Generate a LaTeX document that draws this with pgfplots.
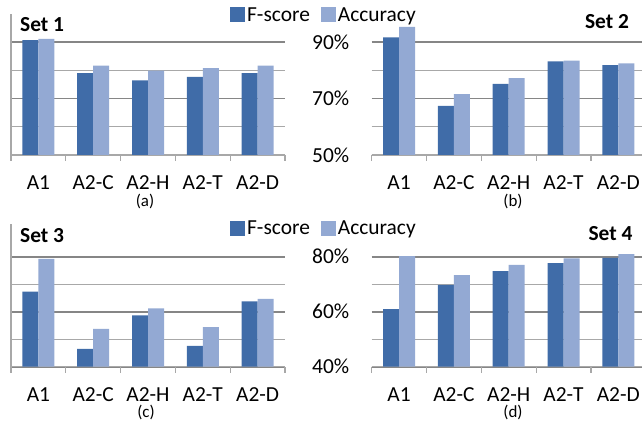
\documentclass[border=0pt]{standalone}
\usepackage{fontspec}
\setmainfont{Carlito}
\usepackage{pgfplots}
\pgfplotsset{compat=1.18}
\definecolor{fdark}{RGB}{64,108,168}
\definecolor{flight}{RGB}{147,169,211}
\definecolor{gmaj}{RGB}{134,134,134}
\definecolor{gmin}{RGB}{168,168,168}
\newcommand{\lbl}{\fontsize{21.5}{25}\selectfont}
\newcommand{\sml}{\fontsize{17}{20}\selectfont}
\pgfplotsset{
 panel/.style={
  scale only axis, anchor=south west,
  xmin=-0.5,
  axis x line*=bottom, axis y line*=left,
  x axis line style={-, draw=gmin, line width=1.2bp},
  y axis line style={-, draw=gmin, line width=1.2bp},
  xtick={0,1,2,3,4}, xticklabels={A1,A2-C,A2-H,A2-T,A2-D},
  minor xtick={-0.5,0.5,1.5,2.5,3.5,4.5},
  major tick length=0pt, minor tick length=6bp, tick align=outside,
  minor x tick style={draw=gmin, line width=1.2bp},
  minor y tick style={draw=none},
  ymajorgrids, yminorgrids,
  major grid style={draw=gmaj, line width=1.6bp},
  minor grid style={draw=gmin, line width=1.1bp},
  ybar=0pt, bar width=16bp,
  tick label style={font=\lbl, text=black},
  xticklabel style={yshift=-17bp},
  /pgf/number format/assume math mode=true,
 },
 leftp/.style={width=274bp, xmax=4.5, yticklabels={}},
 rightp/.style={width=270.3bp, xmax=4.4325, y axis line style={draw=none},
   yticklabel style={xshift=-19bp}},
 toprow/.style={height=141bp, ymin=50, ymax=100, ytick={50,70,90}, minor ytick={60,80}},
 botrow/.style={height=143bp, ymin=40, ymax=92, ytick={40,60,80}, minor ytick={50,70}},
 sqleg/.style={legend image code/.code={\fill[##1] (0bp,-7.5bp) rectangle (15bp,7.5bp);}},
 legst/.style={legend columns=2,
   legend style={draw=none, fill=none, inner sep=0pt, font=\lbl,
     nodes={inner sep=2bp},
     /tikz/every even column/.append style={column sep=9bp}}},
}
\begin{document}
\begin{tikzpicture}
\useasboundingbox (0,0) rectangle (642bp,425bp);
% Set 1
\begin{axis}[panel, leftp, toprow, at={(11bp,270bp)}, legst,
  legend style={at={(axis description cs:0.799,0.993)}, anchor=west}]
\addplot[fill=fdark, draw=none, sqleg] coordinates {(0,90.7) (1,79.0) (2,76.5) (3,77.7) (4,79.0)};
\addplot[fill=flight, draw=none, sqleg] coordinates {(0,91.2) (1,81.7) (2,79.9) (3,80.8) (4,81.7)};
\legend{F-score,Accuracy}
\end{axis}
% Set 2
\begin{axis}[panel, rightp, toprow, at={(371.7bp,270bp)}, yticklabels={50\%,70\%,90\%}]
\addplot[fill=fdark, draw=none] coordinates {(0,91.7) (1,67.4) (2,75.2) (3,83.2) (4,81.9)};
\addplot[fill=flight, draw=none] coordinates {(0,95.4) (1,71.6) (2,77.3) (3,83.5) (4,82.5)};
\end{axis}
% Set 3
\begin{axis}[panel, leftp, botrow, at={(11bp,58.3bp)}, legst,
  legend style={at={(axis description cs:0.799,0.968)}, anchor=west}]
\addplot[fill=fdark, draw=none, sqleg] coordinates {(0,67.3) (1,46.5) (2,58.7) (3,47.6) (4,63.8)};
\addplot[fill=flight, draw=none, sqleg] coordinates {(0,79.2) (1,53.8) (2,61.2) (3,54.4) (4,64.7)};
\legend{F-score,Accuracy}
\end{axis}
% Set 4
\begin{axis}[panel, rightp, botrow, at={(371.7bp,58.3bp)}, yticklabels={40\%,60\%,80\%}]
\addplot[fill=fdark, draw=none] coordinates {(0,60.9) (1,69.8) (2,74.8) (3,77.7) (4,79.6)};
\addplot[fill=flight, draw=none] coordinates {(0,80.2) (1,73.3) (2,77.0) (3,79.4) (4,80.9)};
\end{axis}
\node[font=\lbl\bfseries, anchor=west, inner sep=0pt] at (20bp,400bp) {Set 1};
\node[font=\lbl\bfseries, inner sep=0pt] at (607bp,403bp) {Set 2};
\node[font=\lbl\bfseries, anchor=west, inner sep=0pt] at (20bp,189bp) {Set 3};
\node[font=\lbl\bfseries, inner sep=0pt] at (610.5bp,191bp) {Set 4};
\node[font=\sml, inner sep=0pt] at (145bp,224bp) {(a)};
\node[font=\sml, inner sep=0pt] at (513bp,224bp) {(b)};
\node[font=\sml, inner sep=0pt] at (146bp,12.5bp) {(c)};
\node[font=\sml, inner sep=0pt] at (513bp,12.5bp) {(d)};
\end{tikzpicture}
\end{document}
